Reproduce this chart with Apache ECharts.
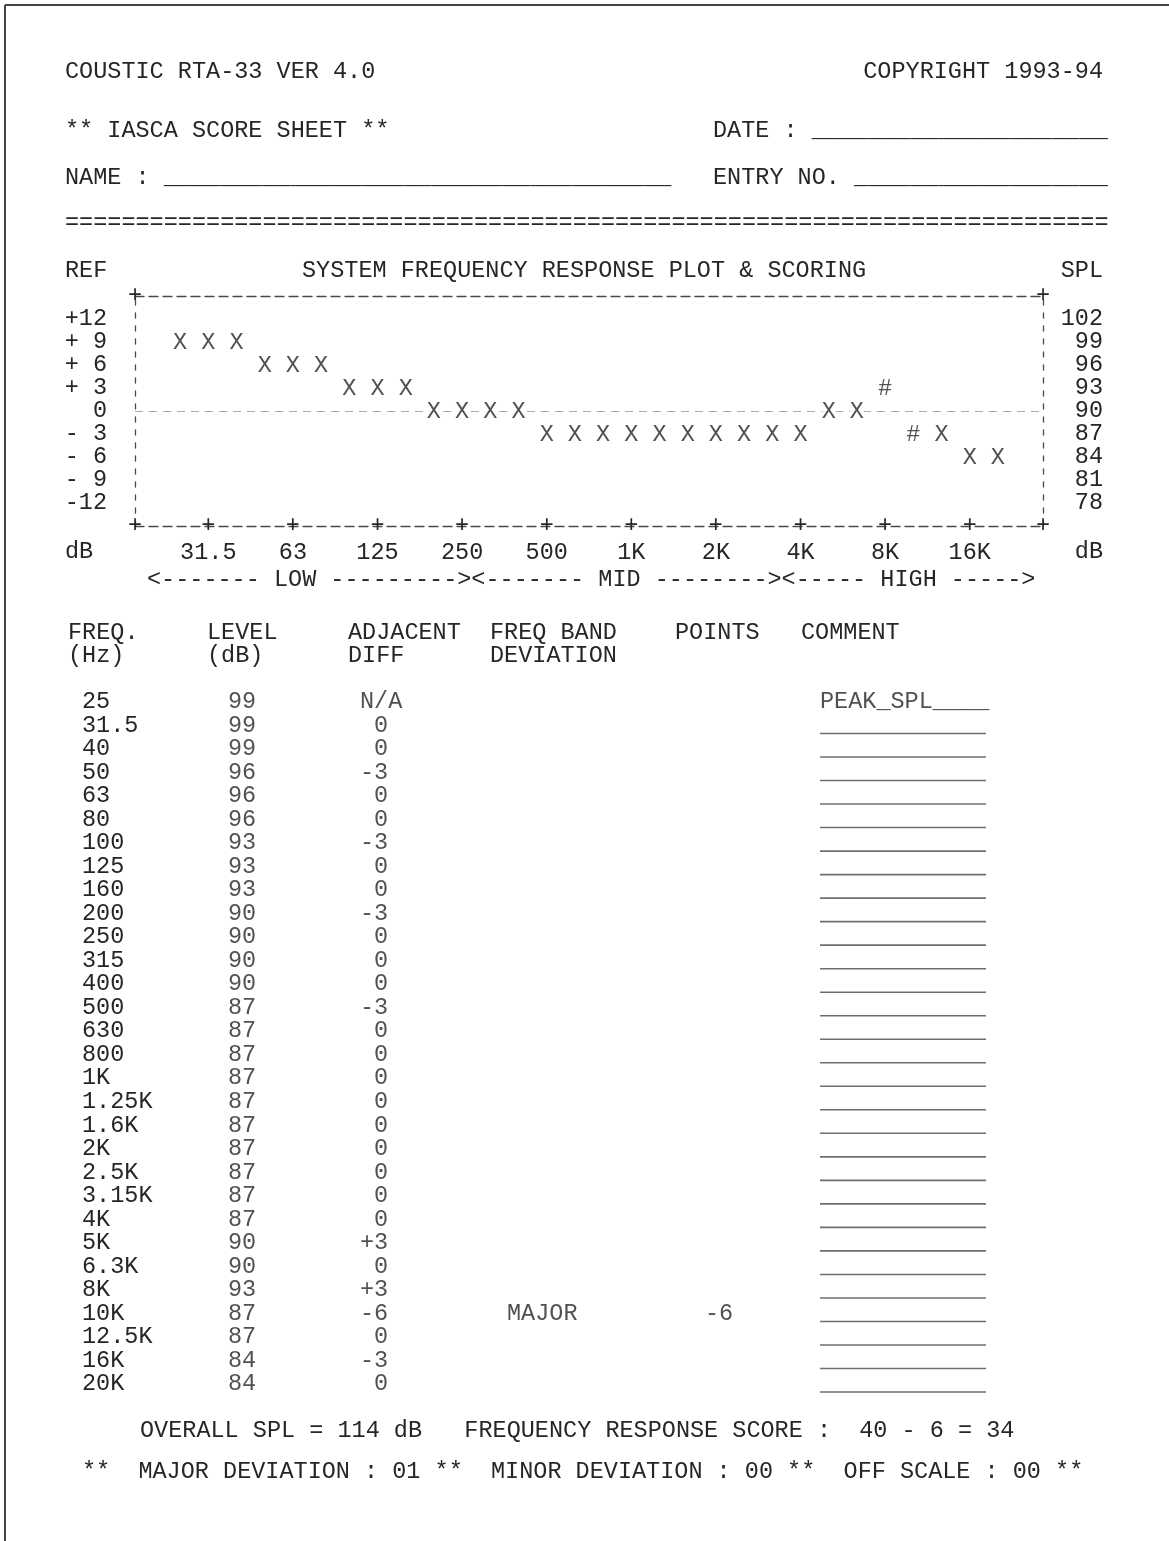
<!DOCTYPE html>
<html>
<head>
<meta charset="utf-8">
<title>COUSTIC RTA-33 - IASCA SCORE SHEET</title>
<script src="https://cdn.jsdelivr.net/npm/echarts@6/dist/echarts.min.js"></script>
<style>
  html, body { margin: 0; padding: 0; background: #fff; }
  #chart { width: 1169px; height: 1541px; }
</style>
</head>
<body>
<div id="chart"></div>
<script>
// ---- measurement data (one entry per 1/3-octave band) ----
const freqs = ['25', '31.5', '40', '50', '63', '80', '100', '125', '160', '200',
  '250', '315', '400', '500', '630', '800', '1K', '1.25K', '1.6K', '2K',
  '2.5K', '3.15K', '4K', '5K', '6.3K', '8K', '10K', '12.5K', '16K', '20K'];
const levels = [99, 99, 99, 96, 96, 96, 93, 93, 93, 90,
  90, 90, 90, 87, 87, 87, 87, 87, 87, 87,
  87, 87, 87, 90, 90, 93, 87, 87, 84, 84];
const plotMarks = ['X', 'X', 'X', 'X', 'X', 'X', 'X', 'X', 'X', 'X',
  'X', 'X', 'X', 'X', 'X', 'X', 'X', 'X', 'X', 'X',
  'X', 'X', 'X', 'X', 'X', '#', '#', 'X', 'X', 'X'];
const adjDiff = ['N/A', ' 0', ' 0', '-3', ' 0', ' 0', '-3', ' 0', ' 0', '-3',
  ' 0', ' 0', ' 0', '-3', ' 0', ' 0', ' 0', ' 0', ' 0', ' 0',
  ' 0', ' 0', ' 0', '+3', ' 0', '+3', '-6', ' 0', '-3', ' 0'];
const bandDeviation = ['', '', '', '', '', '', '', '', '', '',
  '', '', '', '', '', '', '', '', '', '',
  '', '', '', '', '', '', 'MAJOR', '', '', ''];
const bandPoints = ['', '', '', '', '', '', '', '', '', '',
  '', '', '', '', '', '', '', '', '', '',
  '', '', '', '', '', '', '-6', '', '', ''];
const comments = ['PEAK_SPL____', '', '', '', '', '', '', '', '', '',
  '', '', '', '', '', '', '', '', '', '',
  '', '', '', '', '', '', '', '', '', ''];

// ---- axis tick labels ----
const bandLabels = ['31.5', '63', '125', '250', '500', '1K', '2K', '4K', '8K', '16K'];
const splTicks = [78, 81, 84, 87, 90, 93, 96, 99, 102];
const refTicks = ['-12', '- 9', '- 6', '- 3', '  0', '+ 3', '+ 6', '+ 9', '+12'];
const rangeBar = '<------- LOW ---------><------- MID --------><----- HIGH ----->';

// ---- scoring summary ----
const overallSpl = 114;
const baseScore = 40;
const deduction = 6;
const finalScore = 34;
const majorCount = '01';
const minorCount = '00';
const offScaleCount = '00';

// ---- styling ----
const INK = '#262626';
const RULE = '#4a4a4a';
const MONO = '"Liberation Mono", "Courier New", monospace';
const FS = 23.5;

const bandIdx = bandLabels.map(l => freqs.indexOf(l));
const X_MIN = -1.6, X_MAX = 30.6;
// scale labels are split over two stacked axes per side so the
// tightly packed rows are never dropped as overlapping
const splEven = splTicks.filter((v, i) => i % 2 === 0);
const splOdd = splTicks.filter((v, i) => i % 2 === 1);

function txt(text, x, y, align) {
  return {
    type: 'text', x: x, y: y, silent: true,
    style: {
      text: text, fill: INK, font: FS + 'px ' + MONO,
      align: align || 'left', verticalAlign: 'middle'
    }
  };
}

const monoLabel = { color: INK, fontFamily: MONO, fontSize: FS };

const graphic = [
  { type: 'line', silent: true, shape: { x1: 5, y1: 5, x2: 1169, y2: 5 }, style: { stroke: '#444', lineWidth: 2 } },
  { type: 'line', silent: true, shape: { x1: 5, y1: 5, x2: 5, y2: 1541 }, style: { stroke: '#444', lineWidth: 2 } },

  txt('COUSTIC RTA-33 VER 4.0', 65, 72),
  txt('COPYRIGHT 1993-94', 1103, 72, 'right'),
  txt('** IASCA SCORE SHEET **', 65, 131),
  txt('DATE : ' + '_'.repeat(21), 713, 131),
  txt('NAME : ' + '_'.repeat(36), 65, 178),
  txt('ENTRY NO. ' + '_'.repeat(18), 713, 178),
  txt('='.repeat(74), 65, 223),

  txt('REF', 65, 271),
  txt('SYSTEM FREQUENCY RESPONSE PLOT & SCORING', 302, 271),
  txt('SPL', 1103, 271, 'right'),
  txt('dB', 65, 552),
  txt('dB', 1103, 552, 'right'),
  txt(rangeBar, 147, 580),

  txt('FREQ.', 68, 633), txt('(Hz)', 68, 656),
  txt('LEVEL', 207, 633), txt('(dB)', 207, 656),
  txt('ADJACENT', 348, 633), txt('DIFF', 348, 656),
  txt('FREQ BAND', 490, 633), txt('DEVIATION', 490, 656),
  txt('POINTS', 675, 633),
  txt('COMMENT', 801, 633),

  txt('OVERALL SPL = ' + overallSpl + ' dB   FREQUENCY RESPONSE SCORE :  ' +
      baseScore + ' - ' + deduction + ' = ' + finalScore, 140, 1431),
  txt('**  MAJOR DEVIATION : ' + majorCount + ' **  MINOR DEVIATION : ' + minorCount +
      ' **  OFF SCALE : ' + offScaleCount + ' **', 82, 1472)
];

const hidden = { color: 'rgba(0,0,0,0)' };

// table columns: LEVEL, DIFF, DEVIATION, POINTS, COMMENT
const columns = ['LEVEL', 'DIFF', 'DEVIATION', 'POINTS', 'COMMENT'];

function tableLabel(dx, getText) {
  return {
    show: true, position: 'inside', align: 'left', verticalAlign: 'middle',
    offset: [dx, 0], formatter: getText,
    color: INK, fontFamily: MONO, fontSize: FS
  };
}

const frameY = { show: true, onZero: false, lineStyle: { color: RULE, width: 1.3, type: [5, 8] } };
const frameX = { show: true, onZero: false, lineStyle: { color: RULE, width: 1.3, type: [9, 5] } };

function refAxis(values, withLine) {
  return {
    gridIndex: 0, type: 'value', min: 75, max: 105, interval: 3, position: 'left',
    axisLine: withLine ? frameY : { show: false },
    axisTick: { show: false }, splitLine: { show: false },
    axisLabel: Object.assign({ customValues: values,
      showMinLabel: true, showMaxLabel: true, hideOverlap: false,
      formatter: v => refTicks[splTicks.indexOf(v)], margin: 28 }, monoLabel)
  };
}

function splAxis(values, withLine) {
  return {
    gridIndex: 0, type: 'value', min: 75, max: 105, interval: 3, position: 'right',
    axisLine: withLine ? frameY : { show: false },
    axisTick: { show: false }, splitLine: { show: false },
    axisLabel: Object.assign({ customValues: values,
      showMinLabel: true, showMaxLabel: true, hideOverlap: false,
      formatter: v => String(v), margin: 60, align: 'right' }, monoLabel)
  };
}

const option = {
  animation: false,
  backgroundColor: '#fff',
  graphic: graphic,
  grid: [
    { left: 135, top: 296, width: 908, height: 230, show: false },
    { left: 160, top: 690.2, width: 900, height: 705.6, show: false }
  ],
  xAxis: [
    { // bottom frame with "+" tick marks
      gridIndex: 0, type: 'value', min: X_MIN, max: X_MAX, position: 'bottom',
      axisLine: frameX, axisTick: { show: false }, splitLine: { show: false },
      axisLabel: Object.assign({ customValues: [X_MIN].concat(bandIdx, [X_MAX]),
        showMinLabel: true, showMaxLabel: true, hideOverlap: false,
        formatter: () => '+', margin: 0, verticalAlign: 'middle' }, monoLabel)
    },
    { // band frequency labels
      gridIndex: 0, type: 'value', min: X_MIN, max: X_MAX, position: 'bottom',
      axisLine: { show: false }, axisTick: { show: false }, splitLine: { show: false },
      axisLabel: Object.assign({ customValues: bandIdx,
        showMinLabel: true, showMaxLabel: true, hideOverlap: false,
        formatter: v => freqs[Math.round(v)], margin: 15 }, monoLabel)
    },
    { // top frame
      gridIndex: 0, type: 'value', min: X_MIN, max: X_MAX, position: 'top',
      axisLine: frameX, axisTick: { show: false }, splitLine: { show: false },
      axisLabel: Object.assign({ customValues: [X_MIN, X_MAX],
        showMinLabel: true, showMaxLabel: true, hideOverlap: false,
        formatter: () => '+', margin: 0, verticalAlign: 'middle' }, monoLabel)
    },
    { gridIndex: 1, type: 'category', data: columns, show: false }
  ],
  yAxis: [
    refAxis(splEven, true),
    splAxis(splEven, true),
    {
      gridIndex: 1, type: 'category', data: freqs, inverse: true,
      axisLine: { show: false }, axisTick: { show: false }, splitLine: { show: false },
      axisLabel: Object.assign({ interval: 0, align: 'left', margin: 78, lineHeight: 16,
        showMinLabel: true, showMaxLabel: true, hideOverlap: false }, monoLabel)
    },
    refAxis(splOdd, false),
    splAxis(splOdd, false)
  ],
  series: [
    { // response plot
      type: 'scatter', xAxisIndex: 0, yAxisIndex: 0, silent: true, z: 5,
      data: levels.map((v, i) => [i, v]),
      symbolSize: 1, itemStyle: hidden,
      label: {
        show: true, position: 'inside', offset: [0, 1],
        formatter: p => plotMarks[p.dataIndex],
        color: INK, fontFamily: MONO, fontSize: FS, backgroundColor: '#fff'
      },
      markLine: {
        silent: true, symbol: 'none', label: { show: false },
        lineStyle: { color: '#aaa', type: [8, 6], width: 1.2 },
        data: [{ yAxis: 90 }]
      }
    },
    { // LEVEL column
      type: 'scatter', xAxisIndex: 3, yAxisIndex: 2, silent: true,
      data: levels.map((v, i) => [0, i, v]), symbolSize: 1, itemStyle: hidden,
      label: tableLabel(-22, p => String(p.value[2]))
    },
    { // ADJACENT DIFF column
      type: 'scatter', xAxisIndex: 3, yAxisIndex: 2, silent: true,
      data: adjDiff.map((d, i) => [1, i]), symbolSize: 1, itemStyle: hidden,
      label: tableLabel(-70, p => adjDiff[p.value[1]])
    },
    { // FREQ BAND DEVIATION column
      type: 'scatter', xAxisIndex: 3, yAxisIndex: 2, silent: true,
      data: bandDeviation.map((d, i) => [2, i]).filter(d => bandDeviation[d[1]] !== ''),
      symbolSize: 1, itemStyle: hidden,
      label: tableLabel(-103, p => bandDeviation[p.value[1]])
    },
    { // POINTS column
      type: 'scatter', xAxisIndex: 3, yAxisIndex: 2, silent: true,
      data: bandPoints.map((d, i) => [3, i]).filter(d => bandPoints[d[1]] !== ''),
      symbolSize: 1, itemStyle: hidden,
      label: tableLabel(-85, p => bandPoints[p.value[1]])
    },
    { // COMMENT text
      type: 'scatter', xAxisIndex: 3, yAxisIndex: 2, silent: true,
      data: comments.map((d, i) => [4, i]).filter(d => comments[d[1]] !== ''),
      symbolSize: 1, itemStyle: hidden,
      label: tableLabel(-150, p => comments[p.value[1]])
    },
    { // COMMENT blank fields
      type: 'scatter', xAxisIndex: 3, yAxisIndex: 2, silent: true,
      data: comments.map((d, i) => [4, i]).filter(d => comments[d[1]] === ''),
      symbol: 'rect', symbolSize: [166, 1.6], symbolOffset: [-67, 8],
      itemStyle: { color: RULE }
    }
  ]
};

const chart = echarts.init(document.getElementById('chart'), null, { renderer: 'canvas' });
chart.setOption(option);
</script>
</body>
</html>
